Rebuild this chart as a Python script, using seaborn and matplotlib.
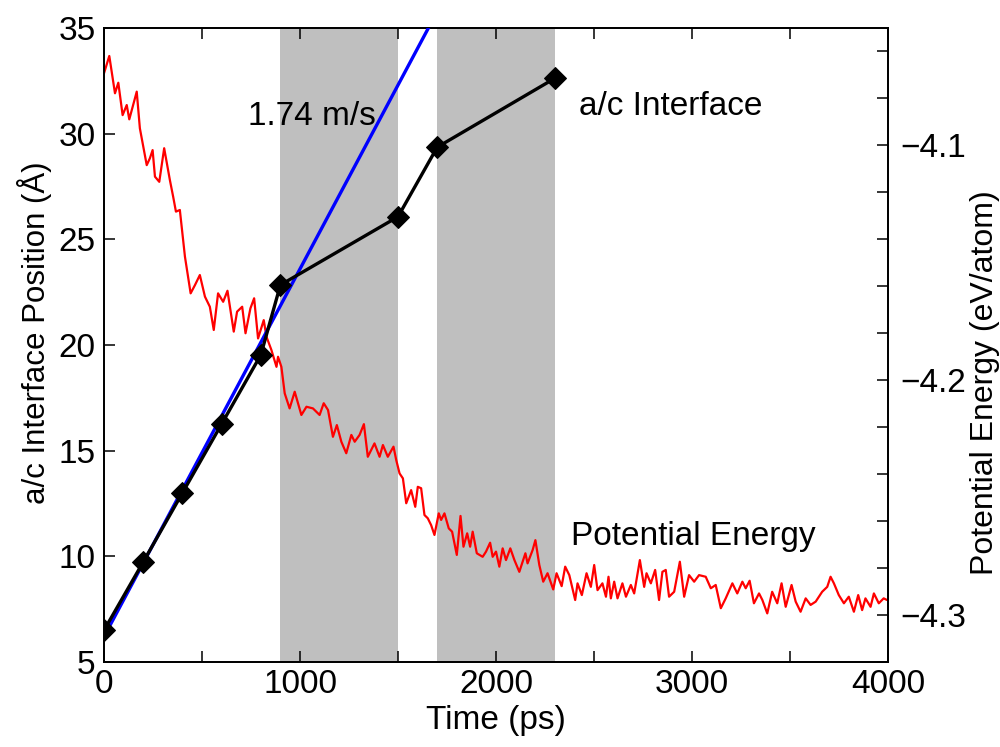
import matplotlib
matplotlib.use("Agg")
import matplotlib.pyplot as plt
import seaborn as sns
import pandas as pd
import numpy as np

# ---------------- data ----------------
iface_time = [0, 200, 400, 600, 800, 900, 1500, 1700, 2300]
iface_pos = [6.5, 9.73, 13.0, 16.26, 19.53, 22.84, 26.07, 29.36, 32.62]

fit_time = [0, 1700]
fit_pos = [6.2, 35.78]

shade_spans = [(900, 1500), (1700, 2300)]

pe_time = [0, 27, 56, 73, 95, 116, 129, 167, 183, 218,
           234, 248, 260, 282, 307, 336, 353, 367, 387, 413,
           442, 464, 489, 515, 540, 560, 582, 608, 630, 662,
           679, 705, 722, 747, 766, 786, 815, 829, 854, 880,
           888, 905, 922, 947, 973, 1007, 1033, 1066, 1100, 1121,
           1143, 1168, 1188, 1211, 1236, 1262, 1279, 1304, 1326, 1346,
           1380, 1406, 1423, 1448, 1477, 1491, 1508, 1525, 1542, 1567,
           1588, 1601, 1618, 1635, 1652, 1669, 1686, 1708, 1720, 1737,
           1759, 1776, 1800, 1819, 1834, 1853, 1868, 1881, 1902, 1932,
           1949, 1970, 1983, 2000, 2017, 2034, 2051, 2073, 2094, 2119,
           2150, 2161, 2187, 2201, 2221, 2241, 2263, 2292, 2309, 2335,
           2353, 2374, 2404, 2416, 2438, 2462, 2484, 2501, 2518, 2543,
           2561, 2574, 2586, 2603, 2620, 2645, 2663, 2688, 2705, 2734,
           2756, 2768, 2790, 2812, 2832, 2849, 2866, 2883, 2909, 2938,
           2960, 2985, 3011, 3036, 3070, 3096, 3121, 3147, 3172, 3206,
           3231, 3257, 3274, 3294, 3316, 3342, 3359, 3384, 3409, 3435,
           3457, 3478, 3508, 3529, 3554, 3580, 3605, 3631, 3664, 3690,
           3707, 3724, 3749, 3775, 3800, 3826, 3848, 3868, 3885, 3911,
           3928, 3953, 3978, 3995]

pe_energy = [-4.0693, -4.0619, -4.0778, -4.0733, -4.0871, -4.0828, -4.0889, -4.0771, -4.0927, -4.1084,
             -4.1055, -4.1020, -4.1133, -4.1155, -4.1012, -4.1147, -4.1219, -4.1282, -4.1275, -4.1474,
             -4.1630, -4.1595, -4.1552, -4.1644, -4.1687, -4.1786, -4.1630, -4.1666, -4.1619, -4.1793,
             -4.1708, -4.1687, -4.1800, -4.1694, -4.1651, -4.1822, -4.1744, -4.1815, -4.1871, -4.1943,
             -4.1900, -4.1943, -4.2056, -4.2120, -4.2049, -4.2148, -4.2113, -4.2120, -4.2148, -4.2098,
             -4.2127, -4.2241, -4.2191, -4.2262, -4.2311, -4.2233, -4.2262, -4.2233, -4.2187, -4.2326,
             -4.2269, -4.2326, -4.2276, -4.2326, -4.2283, -4.2340, -4.2397, -4.2418, -4.2524, -4.2468,
             -4.2539, -4.2454, -4.2460, -4.2574, -4.2588, -4.2617, -4.2659, -4.2567, -4.2595, -4.2567,
             -4.2631, -4.2645, -4.2744, -4.2578, -4.2709, -4.2652, -4.2709, -4.2645, -4.2737, -4.2752,
             -4.2730, -4.2692, -4.2752, -4.2730, -4.2794, -4.2716, -4.2766, -4.2716, -4.2766, -4.2816,
             -4.2737, -4.2780, -4.2723, -4.2681, -4.2787, -4.2858, -4.2822, -4.2891, -4.2822, -4.2877,
             -4.2794, -4.2830, -4.2936, -4.2865, -4.2915, -4.2822, -4.2880, -4.2787, -4.2894, -4.2865,
             -4.2922, -4.2837, -4.2929, -4.2858, -4.2929, -4.2865, -4.2922, -4.2872, -4.2908, -4.2766,
             -4.2880, -4.2822, -4.2865, -4.2808, -4.2936, -4.2816, -4.2808, -4.2922, -4.2901, -4.2773,
             -4.2922, -4.2830, -4.2858, -4.2830, -4.2837, -4.2886, -4.2872, -4.2971, -4.2929, -4.2865,
             -4.2908, -4.2858, -4.2886, -4.2854, -4.2950, -4.2908, -4.2936, -4.2993, -4.2901, -4.2950,
             -4.2865, -4.2965, -4.2872, -4.2943, -4.2986, -4.2929, -4.2957, -4.2943, -4.2901, -4.2880,
             -4.2837, -4.2865, -4.2915, -4.2950, -4.2922, -4.2986, -4.2915, -4.2979, -4.2929, -4.2965,
             -4.2908, -4.2950, -4.2929, -4.2936]

x_ticks = [0, 1000, 2000, 3000, 4000]
left_ticks = [5, 10, 15, 20, 25, 30, 35]
right_major = [-4.3, -4.2, -4.1]
right_minor = [-4.32, -4.28, -4.26, -4.24, -4.22, -4.18, -4.16, -4.14, -4.12, -4.08, -4.06]

# ---------------- style ----------------
sns.set_theme(style="ticks")
plt.rcParams['font.family'] = ['Liberation Sans', 'DejaVu Sans']
plt.rcParams['axes.unicode_minus'] = True
for k in ['text.color', 'axes.labelcolor', 'xtick.color', 'ytick.color',
          'xtick.labelcolor', 'ytick.labelcolor', 'axes.edgecolor']:
    plt.rcParams[k] = 'black'
FS = 24

fig = plt.figure(figsize=(10, 7.47), dpi=100)
ax = fig.add_axes([0.104, 0.1138, 0.784, 0.8487])
ax2 = ax.twinx()

# ax2 holds shading + energy (drawn beneath)
for a, b in shade_spans:
    ax2.axvspan(a, b, color='#bfbfbf', lw=0, zorder=0)

pe_df = pd.DataFrame({'time': pe_time, 'energy': pe_energy})
sns.lineplot(data=pe_df, x='time', y='energy', ax=ax2, color='#ff0000',
             lw=1.6, estimator=None, sort=False, zorder=2)

# ax on top
ax.set_zorder(ax2.get_zorder() + 1)
ax.patch.set_visible(False)

fit_df = pd.DataFrame({'time': fit_time, 'pos': fit_pos})
sns.lineplot(data=fit_df, x='time', y='pos', ax=ax, color='#0000ff', lw=2.4,
             estimator=None, sort=False, zorder=3)
if_df = pd.DataFrame({'time': iface_time, 'pos': iface_pos})
sns.lineplot(data=if_df, x='time', y='pos', ax=ax, color='black', lw=2.4,
             marker='D', markersize=11, markeredgecolor='black',
             markerfacecolor='black', estimator=None, sort=False, zorder=4)

ax.set_xlim(0, 4000)
ax.set_ylim(5, 35)
ax2.set_ylim(-4.32, -4.05)

ax.set_xticks(x_ticks)
ax.set_xticks([500, 1500, 2500, 3500], minor=True)
ax.set_yticks(left_ticks)
ax.tick_params(axis='x', which='both', direction='in', length=8, width=1.1,
               top=True, labelsize=FS, pad=5, color='black', labelcolor='black')
ax.tick_params(axis='y', which='both', direction='in', length=8, width=1.1,
               labelsize=FS, pad=6, color='black', right=False, labelcolor='black')
ax.set_xticklabels([str(v) for v in x_ticks])

ax2.set_yticks(right_major)
ax2.set_yticks(right_minor, minor=True)
ax2.set_yticklabels(['\u22124.3', '\u22124.2', '\u22124.1'])
ax2.tick_params(axis='y', which='both', direction='in', length=8, width=1.1,
                labelsize=FS, pad=9, color='black', labelcolor='black')

ax.set_xlabel('Time (ps)', fontsize=FS, labelpad=4, color='black')
ax.set_ylabel('a/c Interface Position (Å)', fontsize=22.5, color='black')
ax2.set_ylabel('Potential Energy (eV/atom)', fontsize=23, color='black')
ax.yaxis.set_label_coords(-0.066, 0.52)
ax2.yaxis.set_label_coords(1.104, 0.44)

for s in list(ax.spines.values()) + list(ax2.spines.values()):
    s.set_linewidth(1.3)
    s.set_color('black')

ax.text(734, 30.41, '1.74 m/s', fontsize=FS, ha='left', va='baseline', color='black')
ax.text(2425, 30.9, 'a/c Interface', fontsize=FS, ha='left', va='baseline', color='black')
ax.text(2382, 10.54, 'Potential Energy', fontsize=FS, ha='left', va='baseline', color='black')

fig.savefig('out.png', dpi=100)
